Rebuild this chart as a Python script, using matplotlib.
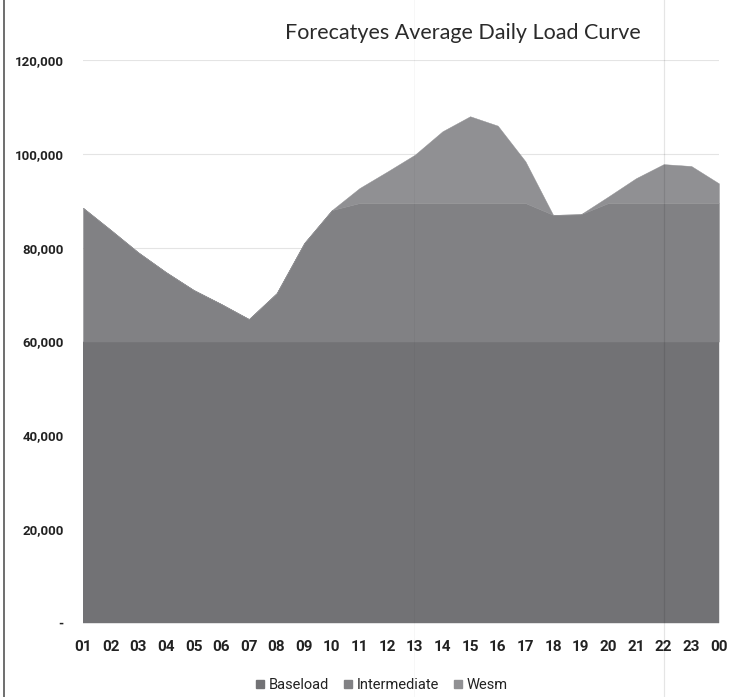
import matplotlib
matplotlib.use("Agg")
import matplotlib.pyplot as plt
from matplotlib.lines import Line2D
from matplotlib.ticker import FuncFormatter

plt.rcParams['font.family'] = ['Lato', 'DejaVu Sans']

# hourly load, stacked
hours = ['01', '02', '03', '04', '05', '06', '07', '08', '09', '10', '11', '12',
         '13', '14', '15', '16', '17', '18', '19', '20', '21', '22', '23', '00']
baseload = [60000] * 24
intermediate = [28500, 23800, 19000, 14800, 11000, 8000, 4800, 10300, 21000, 28000, 29500, 29500,
                29500, 29500, 29500, 29500, 29500, 27000, 27100, 29500, 29500, 29500, 29500, 29500]
wesm = [0, 0, 0, 0, 0, 0, 0, 0, 0, 0, 3200, 6700,
        10300, 15300, 18500, 16500, 8900, 0, 0, 1400, 5300, 8300, 7900, 4200]

colors = ['#727275', '#818184', '#909093']
tick_font = ['Roboto', 'DejaVu Sans']

fig = plt.figure(figsize=(7.36, 6.97), dpi=100)
ax = fig.add_axes([0.1128, 0.106, 0.864, 0.808])

x = list(range(len(hours)))
ax.stackplot(x, baseload, intermediate, wesm, colors=colors,
             labels=['Baseload', 'Intermediate', 'Wesm'], zorder=2,
             edgecolor='face', linewidth=0.3)

ax.set_xlim(0, 23)
ax.set_ylim(0, 120000)
ax.set_yticks(range(0, 120001, 20000))
ax.yaxis.set_major_formatter(FuncFormatter(lambda v, p: '-' if v == 0 else f'{int(v):,}'))
ax.set_xticks(x)
ax.set_xticklabels(hours)
ax.tick_params(axis='both', length=0, colors='#222222')
ax.tick_params(axis='y', labelsize=9.5, pad=14)
ax.tick_params(axis='x', labelsize=11, pad=12)
for lbl in ax.get_xticklabels() + ax.get_yticklabels():
    lbl.set_family(tick_font)
    lbl.set_fontweight('bold')

ax.grid(axis='y', color='#e4e4e4', linewidth=0.8, zorder=0)
for s in ax.spines.values():
    s.set_visible(False)

fig.text(0.629, 0.952, 'Forecatyes Average Daily Load Curve', ha='center', va='center',
         fontsize=15.5, color='#2a2a2a')

handles = [Line2D([], [], marker='s', linestyle='', markersize=6, color=c) for c in colors]
fig.legend(handles, ['Baseload', 'Intermediate', 'Wesm'], loc='center', bbox_to_anchor=(0.518, 0.017),
           ncol=3, frameon=False, prop={'family': tick_font, 'size': 10.5},
           handlelength=0.8, handletextpad=0.2, columnspacing=0.9, labelcolor='#222222')

# faint page lines and left border
fig.add_artist(Line2D([0.005, 0.005], [0, 1], color='#555555', linewidth=1.2))
fig.add_artist(Line2D([0.902, 0.902], [0, 1], color='#000000', alpha=0.1, linewidth=0.9, zorder=3))
fig.add_artist(Line2D([0.563, 0.563], [0.0, 1], color='#000000', alpha=0.03, linewidth=0.8, zorder=3))

fig.savefig('out.png', dpi=100)
